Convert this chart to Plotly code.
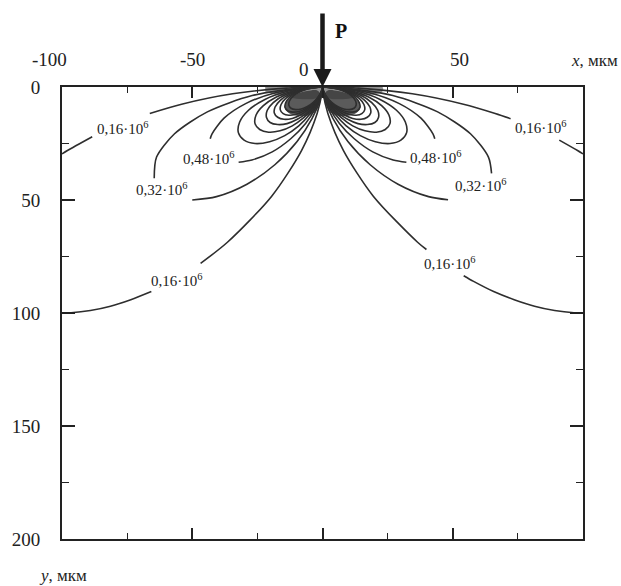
import plotly.graph_objects as go

# ---------------- data (x, y in мкм) ----------------
# contour 0,16e6 (clipped by the frame, gaps where labels sit)
c016_left_x = [-100, -97.9, -88.4, None, -66.3, -54.1, -34.5, -13.9, 0, None, 0, -0.14, -2.06, -8.05, -19.5, -36.5, -46.8, None, -65.7, -73.6, -81.4, -89.1, -96.5, -100]
c016_left_y = [29.6, 28.1, 22.0, None, 11.7, 7.6, 3.0, 0.49, 0, None, 0, 1.94, 11.7, 28.1, 48.3, 68.7, 78.0, None, 90.5, 94.1, 97.0, 98.9, 99.9, 100]
c016_right_x = [100, 97.9, 90.9, None, 72.2, 66.3, 54.1, 34.5, 13.9, 0, None, 0, 0.14, 2.06, 8.05, 19.5, 36.5, 39.9, None, 54.2, 58.0, 65.7, 73.6, 81.4, 89.1, 96.5, 100]
c016_right_y = [29.6, 28.1, 23.5, None, 14.0, 11.7, 7.6, 3.0, 0.49, 0, None, 0, 1.94, 11.7, 28.1, 48.3, 68.7, 71.9, None, 83.5, 86.0, 90.5, 94.1, 97.0, 98.9, 99.9, 100]

# contour 0,32e6
c032_left_x = [0, -6.97, -27.0, -44.2, -56.8, -63.7, -64.6, None, -50.0, -40.7, -29.0, -18.3, -9.75, -4.03, -1.03, -0.07, 0]
c032_left_y = [0, 0.24, 3.8, 11.0, 20.7, 31.0, 40.4, None, 50.0, 48.5, 43.0, 34.4, 24.1, 14.0, 5.85, 0.97, 0]
c032_right_x = [0, 6.97, 27.0, 44.2, 56.8, 63.7, 64.9, None, 48.2, 40.7, 29.0, 18.3, 9.75, 4.03, 1.03, 0.07, 0]
c032_right_y = [0, 0.24, 3.8, 11.0, 20.7, 31.0, 38.2, None, 49.9, 48.5, 43.0, 34.4, 24.1, 14.0, 5.85, 0.97, 0]

# contour 0,48e6
c048_left_x = [0, -4.65, -18.0, -29.5, -37.8, -42.4, -43.1, None, -32.2, -27.1, -19.3, -12.2, -6.5, -2.68, -0.69, -0.05, 0]
c048_left_y = [0, 0.16, 2.53, 7.35, 13.8, 20.7, 22.9, None, 33.3, 32.3, 28.7, 22.9, 16.1, 9.36, 3.9, 0.65, 0]
c048_right_x = [0, 4.65, 18.0, 29.5, 37.8, 42.4, 43.1, None, 32.2, 27.1, 19.3, 12.2, 6.5, 2.68, 0.69, 0.05, 0]
c048_right_y = [0, 0.16, 2.53, 7.35, 13.8, 20.7, 22.9, None, 33.3, 32.3, 28.7, 22.9, 16.1, 9.36, 3.9, 0.65, 0]

# unlabelled inner contours 0,64e6 ... 1,60e6
c064_left_x = [0, -3.48, -13.5, -22.1, -28.4, -31.8, -32.3, -30.1, -25.9, -20.3, -14.5, -9.1, -4.9, -2.0, -0.52, -0.03, 0]
c064_left_y = [0, 0.12, 1.9, 5.5, 10.3, 15.5, 20.2, 23.5, 25.0, 24.2, 21.5, 17.2, 12.1, 7.0, 2.9, 0.48, 0]
c064_right_x = [0, 3.48, 13.5, 22.1, 28.4, 31.8, 32.3, 30.1, 25.9, 20.3, 14.5, 9.1, 4.9, 2.0, 0.52, 0.03, 0]
c064_right_y = [0, 0.12, 1.9, 5.5, 10.3, 15.5, 20.2, 23.5, 25.0, 24.2, 21.5, 17.2, 12.1, 7.0, 2.9, 0.48, 0]

c080_left_x = [0, -2.79, -10.8, -17.7, -22.7, -25.5, -25.9, -24.1, -20.7, -16.3, -11.6, -7.31, -3.9, -1.61, -0.41, -0.03, 0]
c080_left_y = [0, 0.10, 1.52, 4.41, 8.26, 12.4, 16.2, 18.8, 20.0, 19.4, 17.2, 13.7, 9.65, 5.62, 2.34, 0.39, 0]
c080_right_x = [0, 2.79, 10.8, 17.7, 22.7, 25.5, 25.9, 24.1, 20.7, 16.3, 11.6, 7.31, 3.9, 1.61, 0.41, 0.03, 0]
c080_right_y = [0, 0.10, 1.52, 4.41, 8.26, 12.4, 16.2, 18.8, 20.0, 19.4, 17.2, 13.7, 9.65, 5.62, 2.34, 0.39, 0]

c096_left_x = [0, -2.32, -9.01, -14.7, -18.9, -21.2, -21.5, -20.1, -17.2, -13.6, -9.66, -6.09, -3.25, -1.34, -0.34, -0.02, 0]
c096_left_y = [0, 0.08, 1.27, 3.67, 6.89, 10.3, 13.5, 15.7, 16.6, 16.2, 14.3, 11.5, 8.04, 4.68, 1.95, 0.32, 0]
c096_right_x = [0, 2.32, 9.01, 14.7, 18.9, 21.2, 21.5, 20.1, 17.2, 13.6, 9.66, 6.09, 3.25, 1.34, 0.34, 0.02, 0]
c096_right_y = [0, 0.08, 1.27, 3.67, 6.89, 10.3, 13.5, 15.7, 16.6, 16.2, 14.3, 11.5, 8.04, 4.68, 1.95, 0.32, 0]

c112_left_x = [0, -1.99, -7.72, -12.6, -16.2, -18.2, -18.5, -17.2, -14.8, -11.6, -8.28, -5.22, -2.79, -1.15, -0.29, -0.02, 0]
c112_left_y = [0, 0.07, 1.09, 3.15, 5.9, 8.87, 11.5, 13.4, 14.3, 13.9, 12.3, 9.82, 6.89, 4.01, 1.67, 0.28, 0]
c112_right_x = [0, 1.99, 7.72, 12.6, 16.2, 18.2, 18.5, 17.2, 14.8, 11.6, 8.28, 5.22, 2.79, 1.15, 0.29, 0.02, 0]
c112_right_y = [0, 0.07, 1.09, 3.15, 5.9, 8.87, 11.5, 13.4, 14.3, 13.9, 12.3, 9.82, 6.89, 4.01, 1.67, 0.28, 0]

c128_left_x = [0, -1.74, -6.76, -11.05, -14.2, -15.9, -16.2, -15.1, -12.9, -10.2, -7.25, -4.57, -2.44, -1.0, -0.26, -0.02, 0]
c128_left_y = [0, 0.06, 0.95, 2.76, 5.17, 7.76, 10.1, 11.8, 12.5, 12.1, 10.7, 8.59, 6.03, 3.51, 1.46, 0.24, 0]
c128_right_x = [0, 1.74, 6.76, 11.05, 14.2, 15.9, 16.2, 15.1, 12.9, 10.2, 7.25, 4.57, 2.44, 1.0, 0.26, 0.02, 0]
c128_right_y = [0, 0.06, 0.95, 2.76, 5.17, 7.76, 10.1, 11.8, 12.5, 12.1, 10.7, 8.59, 6.03, 3.51, 1.46, 0.24, 0]

c144_left_x = [0, -1.55, -6.0, -9.82, -12.6, -14.1, -14.4, -13.4, -11.5, -9.04, -6.44, -4.06, -2.17, -0.89, -0.23, -0.02, 0]
c144_left_y = [0, 0.05, 0.84, 2.45, 4.59, 6.9, 8.98, 10.5, 11.1, 10.8, 9.55, 7.64, 5.36, 3.12, 1.3, 0.22, 0]
c144_right_x = [0, 1.55, 6.0, 9.82, 12.6, 14.1, 14.4, 13.4, 11.5, 9.04, 6.44, 4.06, 2.17, 0.89, 0.23, 0.02, 0]
c144_right_y = [0, 0.05, 0.84, 2.45, 4.59, 6.9, 8.98, 10.5, 11.1, 10.8, 9.55, 7.64, 5.36, 3.12, 1.3, 0.22, 0]

c160_left_x = [0, -1.39, -5.41, -8.84, -11.4, -12.7, -12.9, -12.1, -10.3, -8.14, -5.8, -3.65, -1.95, -0.81, -0.21, -0.01, 0]
c160_left_y = [0, 0.05, 0.76, 2.2, 4.13, 6.21, 8.08, 9.41, 9.99, 9.7, 8.6, 6.87, 4.83, 2.81, 1.17, 0.19, 0]
c160_right_x = [0, 1.39, 5.41, 8.84, 11.4, 12.7, 12.9, 12.1, 10.3, 8.14, 5.8, 3.65, 1.95, 0.81, 0.21, 0.01, 0]
c160_right_y = [0, 0.05, 0.76, 2.2, 4.13, 6.21, 8.08, 9.41, 9.99, 9.7, 8.6, 6.87, 4.83, 2.81, 1.17, 0.19, 0]

# dense (dark) zone right under the load
dark_left_x = [-0.4, -2, -6, -10, -13.5, -14.5, -13, -9.5, -5.5, -2.5, -1.0, -0.4]
dark_left_y = [4, 1.5, 1.8, 3.2, 6.0, 9.0, 11.5, 12.8, 12.6, 10.5, 7.0, 4]
dark_right_x = [0.4, 2, 6, 10, 13.5, 14.5, 13, 9.5, 5.5, 2.5, 1.0, 0.4]
dark_right_y = [4, 1.5, 1.8, 3.2, 6.0, 9.0, 11.5, 12.8, 12.6, 10.5, 7.0, 4]
haze_x = [-22, 23, 23, 17, 10, 4, 1.2, 0, -1.2, -4, -10, -17, -22]
haze_y = [0, 0, 2.0, 3.8, 5.2, 5.4, 4.8, 4.4, 4.8, 5.4, 5.2, 3.8, 2.0]

# contour labels
label_text = ["0,16·10<sup>6</sup>", "0,32·10<sup>6</sup>", "0,48·10<sup>6</sup>", "0,16·10<sup>6</sup>",
              "0,16·10<sup>6</sup>", "0,32·10<sup>6</sup>", "0,48·10<sup>6</sup>", "0,16·10<sup>6</sup>"]
label_x = [-76.5, -61.6, -43.6, -55.8, 84.0, 60.8, 43.6, 49.0]
label_y = [18.0, 45.0, 31.3, 85.6, 17.6, 43.2, 30.9, 77.7]

# axis ticks
x_ticks = [-100, -50, 0, 50, 100]
x_tick_text = ["-100", "-50", "0", "50"]
x_tick_text_pos = [-100, -50, 0, 50]
x_minor = [-75, -25, 25, 75]
y_ticks = [0, 50, 100, 150, 200]
y_minor = [25, 75, 125, 175]

# ---------------- figure ----------------
SERIF = "Liberation Serif, Times New Roman, serif"
LINE = dict(color="#2e2e2e", width=1.6, shape="spline", smoothing=0.8)

fig = go.Figure()

for xs, ys, col in [(haze_x, haze_y, "rgba(70,70,70,0.6)"),
                    (dark_left_x, dark_left_y, "rgba(50,50,50,0.8)"),
                    (dark_right_x, dark_right_y, "rgba(50,50,50,0.8)")]:
    fig.add_trace(go.Scatter(x=xs, y=ys, mode="lines", fill="toself", fillcolor=col,
                             line=dict(width=0, shape="spline"), hoverinfo="skip", showlegend=False))

contours = [
    (c016_left_x, c016_left_y), (c016_right_x, c016_right_y),
    (c032_left_x, c032_left_y), (c032_right_x, c032_right_y),
    (c048_left_x, c048_left_y), (c048_right_x, c048_right_y),
    (c064_left_x, c064_left_y), (c064_right_x, c064_right_y),
    (c080_left_x, c080_left_y), (c080_right_x, c080_right_y),
    (c096_left_x, c096_left_y), (c096_right_x, c096_right_y),
    (c112_left_x, c112_left_y), (c112_right_x, c112_right_y),
    (c128_left_x, c128_left_y), (c128_right_x, c128_right_y),
    (c144_left_x, c144_left_y), (c144_right_x, c144_right_y),
    (c160_left_x, c160_left_y), (c160_right_x, c160_right_y),
]
for xs, ys in contours:
    fig.add_trace(go.Scatter(x=xs, y=ys, mode="lines", line=LINE,
                             connectgaps=False, hoverinfo="skip", showlegend=False))

annotations = []
for t, lx, ly in zip(label_text, label_x, label_y):
    annotations.append(dict(x=lx, y=ly, xref="x", yref="y", text=t, showarrow=False,
                            font=dict(family=SERIF, size=15, color="#222"),
                            xanchor="center", yanchor="middle"))

# top tick labels
shifts = {-100: -13, -50: 0, 0: -19, 50: 7}
yshifts = {-100: 28, -50: 28, 0: 18, 50: 28}
for t, v in zip(x_tick_text, x_tick_text_pos):
    annotations.append(dict(x=v, y=1, xref="x", yref="paper", text=t, showarrow=False,
                            xshift=shifts[v], yshift=yshifts[v],
                            font=dict(family=SERIF, size=19, color="#222"),
                            xanchor="center", yanchor="middle"))

# axis titles
annotations.append(dict(x=1, y=1, xref="paper", yref="paper", text="<i>x</i>, мкм", showarrow=False,
                        xanchor="right", yanchor="middle", xshift=37, yshift=27,
                        font=dict(family=SERIF, size=17, color="#222")))
annotations.append(dict(x=0, y=0, xref="paper", yref="paper", text="<i>y</i>, мкм", showarrow=False,
                        xanchor="left", yanchor="middle", xshift=-25, yshift=-36,
                        font=dict(family=SERIF, size=17, color="#222")))

# load arrow and P
annotations.append(dict(x=0, y=0, xref="x", yref="y", ax=0, ay=-75, axref="pixel", ayref="pixel",
                        text="", showarrow=True, arrowhead=2, arrowsize=0.8, arrowwidth=4.5,
                        arrowcolor="#1a1a1a", standoff=0))
annotations.append(dict(x=0, y=1, xref="x", yref="paper", text="<b>P</b>", showarrow=False,
                        xshift=18, yshift=56, xanchor="center", yanchor="middle",
                        font=dict(family=SERIF, size=20, color="#111")))

axis_common = dict(showline=True, linecolor="#222", linewidth=2, mirror="allticks",
                   ticks="inside", tickcolor="#222", tickwidth=1.5, showgrid=False,
                   zeroline=False)

fig.update_layout(
    width=621, height=586,
    margin=dict(l=60, r=38, t=87, b=47),
    paper_bgcolor="white", plot_bgcolor="white",
    xaxis=dict(range=[-100, 100], side="top", tickvals=x_ticks, ticklen=11,
               showticklabels=False,
               minor=dict(tickvals=x_minor, ticklen=6, ticks="inside", tickcolor="#222", tickwidth=1.2),
               **axis_common),
    yaxis=dict(range=[200, 0], tickvals=y_ticks, ticktext=[str(v) for v in y_ticks], ticklen=13,
               tickfont=dict(family=SERIF, size=19, color="#222"), ticklabelstandoff=16,
               minor=dict(tickvals=y_minor, ticklen=7, ticks="inside", tickcolor="#222", tickwidth=1.2),
               **axis_common),
    annotations=annotations,
)

fig.write_html("out.html", config={"displayModeBar": False},
               post_script="document.body.style.margin='0';document.body.style.overflow='hidden';")
